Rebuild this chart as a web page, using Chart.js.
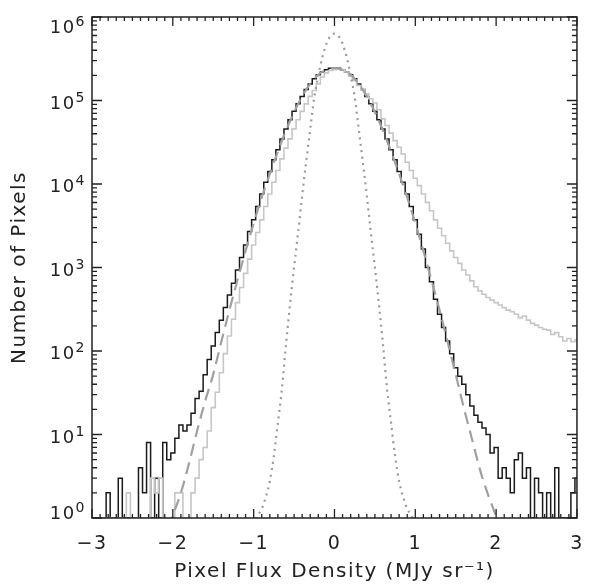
<!DOCTYPE html>
<html>
<head>
<meta charset="UTF-8">
<title>Pixel Flux Density histogram</title>
<style>
  html, body { margin: 0; padding: 0; background: #fff; }
  canvas { display: block; }
</style>
</head>
<body>
<canvas id="histChart" width="590" height="586"></canvas>
<script src="https://cdn.jsdelivr.net/npm/chart.js"></script>
<script>
// histogram bins: centres from -3.00 to 3.00, 0.05 wide
const binStart = -3.0;
const binWidth = 0.05;

// black histogram (empty bins sit on the 10^0 baseline)
const blackCounts = [
  1, 1, 1, 1, 2, 1, 1, 3, 1, 1,
  1, 1, 4, 2, 8, 1, 3, 1, 8, 5,
  6, 9, 13, 11, 13, 18, 27, 33, 52, 79,
  115, 166, 234, 331, 468, 646, 933, 1320, 1860, 2690,
  3720, 5370, 7590, 10500, 14100, 19500, 25700, 34700, 45700, 58900,
  74100, 91200, 112000, 135000, 158000, 182000, 204000, 219000, 234000, 243000,
  245000, 243000, 234000, 219000, 204000, 182000, 158000, 135000, 112000, 91200,
  74100, 58900, 45700, 34700, 25700, 19500, 14100, 10500, 7590, 5370,
  3720, 2510, 1660, 1000, 676, 417, 275, 191, 132, 93,
  63, 50, 40, 30, 22, 17, 14, 12, 10, 6,
  7, 3, 4, 3, 2, 5, 6, 3, 4, 1,
  3, 2, 1, 2, 1, 4, 1, 1, 1, 2,
  3
];

// light grey histogram with the long positive tail
const greyCounts = [
  1, 1, 1, 1, 1, 1, 1, 1, 1, 2,
  1, 1, 1, 1, 1, 3, 2, 3, 1, 1,
  1, 2, 2, 1, 1, 2, 3, 5, 7, 11,
  21, 32, 55, 93, 151, 240, 380, 575, 851, 1260,
  1860, 2630, 3720, 5370, 7590, 10500, 14500, 20000, 26900, 34700,
  45700, 58900, 74100, 91200, 112000, 132000, 158000, 191000, 214000, 229000,
  234000, 240000, 234000, 219000, 195000, 174000, 151000, 135000, 120000, 105000,
  93300, 77600, 60300, 50100, 40700, 33100, 27500, 22900, 18200, 14500,
  11700, 9550, 7590, 6030, 4790, 3720, 2950, 2400, 1950, 1580,
  1320, 1120, 933, 813, 692, 589, 525, 479, 437, 407,
  380, 355, 331, 309, 295, 275, 251, 263, 234, 214,
  204, 191, 182, 178, 158, 166, 148, 132, 141, 129,
  135
];

// dashed grey fit curve
const fitX = [
  -2.2, -2.1, -2.0, -1.9, -1.8, -1.7, -1.6, -1.5, -1.4, -1.3, -1.2, -1.1,
  -1.0, -0.9, -0.8, -0.7, -0.6, -0.5, -0.4, -0.3, -0.2, -0.1, 0,
  0.1, 0.2, 0.3, 0.4, 0.5, 0.6, 0.7, 0.8, 0.9, 1.0,
  1.1, 1.2, 1.3, 1.4, 1.5, 1.6, 1.7, 1.8, 1.9, 2.0, 2.1, 2.2
];
const fitCounts = [
  0.28, 0.56, 1.07, 2.0, 4.5, 11.0, 25.1, 52.5, 129, 309, 708, 1580,
  3390, 6920, 13200, 24500, 43700, 72400, 112000, 158000, 204000, 234000, 245000,
  234000, 204000, 158000, 112000, 72400, 43700, 24500, 13200, 6920, 3390,
  1580, 708, 309, 129, 52.5, 20.9, 8.9, 3.8, 1.9, 1.05, 0.56, 0.28
];

// dotted grey narrow curve
const noiseX = [
  -1.05, -1.0, -0.95, -0.9, -0.85, -0.8, -0.75, -0.7, -0.65, -0.6, -0.55,
  -0.5, -0.45, -0.4, -0.35, -0.3, -0.25, -0.2, -0.15, -0.1, -0.05, 0,
  0.05, 0.1, 0.15, 0.2, 0.25, 0.3, 0.35, 0.4, 0.45, 0.5,
  0.55, 0.6, 0.65, 0.7, 0.75, 0.8, 0.85, 0.9, 0.95, 1.0, 1.05
];
const noiseCounts = [
  0.71, 0.89, 1.07, 1.29, 1.78, 2.75, 5.5, 13.8, 35.5, 120, 363,
  1000, 2630, 7240, 18600, 45700, 110000, 200000, 331000, 479000, 589000, 631000,
  589000, 479000, 331000, 200000, 110000, 45700, 18600, 7240, 2630, 1000,
  363, 120, 35.5, 13.8, 5.5, 2.75, 1.78, 1.29, 1.07, 0.89, 0.71
];

const xTickValues = [-3, -2, -1, 0, 1, 2, 3];
const yTickValues = [1, 10, 100, 1000, 10000, 100000, 1000000];

const fontFamily = "'DejaVu Sans', sans-serif";

// left edges + closing right edge for stepped drawing
function histPoints(counts) {
  const pts = counts.map((c, i) => ({ x: binStart - binWidth / 2 + i * binWidth, y: c }));
  pts.push({ x: binStart + binWidth / 2 + (counts.length - 1) * binWidth, y: counts[counts.length - 1] });
  return pts;
}

function curvePoints(xs, ys) {
  return xs.map((x, i) => ({ x: x, y: ys[i] }));
}

// IDL-style box with inward ticks, drawn over the data, plus 10^n labels
const framePlugin = {
  id: 'frame',
  beforeDraw(chart) {
    chart.ctx.letterSpacing = '1.5px';
  },
  afterDatasetsDraw(chart) {
    const { ctx, chartArea: a, scales: { x, y } } = chart;
    ctx.save();
    ctx.strokeStyle = '#222';
    ctx.lineWidth = 1.3;
    ctx.beginPath();
    for (let i = -30; i <= 30; i++) {
      const px = x.getPixelForValue(i / 10);
      const len = i % 10 === 0 ? 9 : 4;
      ctx.moveTo(px, a.bottom); ctx.lineTo(px, a.bottom - len);
      ctx.moveTo(px, a.top); ctx.lineTo(px, a.top + len);
    }
    for (let d = 0; d < 6; d++) {
      for (let m = 2; m <= 9; m++) {
        const py = y.getPixelForValue(m * Math.pow(10, d));
        ctx.moveTo(a.left, py); ctx.lineTo(a.left + 5, py);
        ctx.moveTo(a.right, py); ctx.lineTo(a.right - 5, py);
      }
    }
    yTickValues.forEach(v => {
      const py = y.getPixelForValue(v);
      ctx.moveTo(a.left, py); ctx.lineTo(a.left + 10, py);
      ctx.moveTo(a.right, py); ctx.lineTo(a.right - 10, py);
    });
    ctx.stroke();
    ctx.lineWidth = 1.5;
    ctx.strokeRect(a.left, a.top, a.right - a.left, a.bottom - a.top);

    // y labels: "10" with a raised exponent, kept inside the axis span
    ctx.fillStyle = '#222';
    ctx.textAlign = 'right';
    ctx.textBaseline = 'alphabetic';
    yTickValues.forEach(v => {
      const py = y.getPixelForValue(v);
      const cy = Math.min(Math.max(py + 1.5, a.top + 9.5), a.bottom - 6);
      const base = cy + 6.5;
      const right = a.left - 6;
      ctx.font = '14px ' + fontFamily;
      const exp = String(Math.round(Math.log10(v)));
      ctx.fillText(exp, right, base - 7);
      const expW = ctx.measureText(exp).width;
      ctx.font = '18px ' + fontFamily;
      ctx.fillText('10', right - expW, base);
    });
    ctx.restore();
  }
};

new Chart(document.getElementById('histChart'), {
  type: 'line',
  data: {
    datasets: [
      {
        label: 'narrow',
        data: curvePoints(noiseX, noiseCounts),
        borderColor: '#999999',
        borderWidth: 2.2,
        borderDash: [2, 4.5],
        cubicInterpolationMode: 'monotone',
        pointRadius: 0
      },
      {
        label: 'fit',
        data: curvePoints(fitX, fitCounts),
        borderColor: '#a0a0a0',
        borderWidth: 2.2,
        borderDash: [12, 7],
        cubicInterpolationMode: 'monotone',
        pointRadius: 0
      },
      {
        label: 'grey',
        data: histPoints(greyCounts),
        borderColor: '#c6c6c6',
        borderWidth: 1.6,
        stepped: 'before',
        pointRadius: 0
      },
      {
        label: 'black',
        data: histPoints(blackCounts),
        borderColor: '#1a1a1a',
        borderWidth: 1.5,
        stepped: 'before',
        pointRadius: 0
      }
    ]
  },
  options: {
    responsive: false,
    animation: false,
    events: [],
    layout: { padding: { top: 17, right: 8, left: 0, bottom: 0 } },
    plugins: { legend: { display: false }, tooltip: { enabled: false } },
    scales: {
      x: {
        type: 'linear',
        min: -3,
        max: 3,
        grid: { display: false },
        border: { display: false },
        afterFit: s => { s.height = 68; },
        afterBuildTicks: s => { s.ticks = xTickValues.map(v => ({ value: v })); },
        ticks: {
          padding: 7,
          color: '#222',
          font: { family: fontFamily, size: 19 },
          maxRotation: 0,
          callback: v => String(v).replace('-', '\u2212')
        },
        title: {
          display: true,
          text: 'Pixel Flux Density (MJy sr\u207B\u00B9)',
          color: '#222',
          font: { family: fontFamily, size: 20 },
          padding: { top: 0, bottom: 2 }
        }
      },
      y: {
        type: 'logarithmic',
        min: 1,
        max: 1000000,
        grid: { display: false },
        border: { display: false },
        afterFit: s => { s.width = 92; },
        afterBuildTicks: s => { s.ticks = yTickValues.map(v => ({ value: v })); },
        ticks: { display: false },
        title: {
          display: true,
          text: 'Number of Pixels',
          color: '#222',
          font: { family: fontFamily, size: 20 },
          padding: { top: 8, bottom: 0 }
        }
      }
    }
  },
  plugins: [framePlugin]
});
</script>
</body>
</html>
